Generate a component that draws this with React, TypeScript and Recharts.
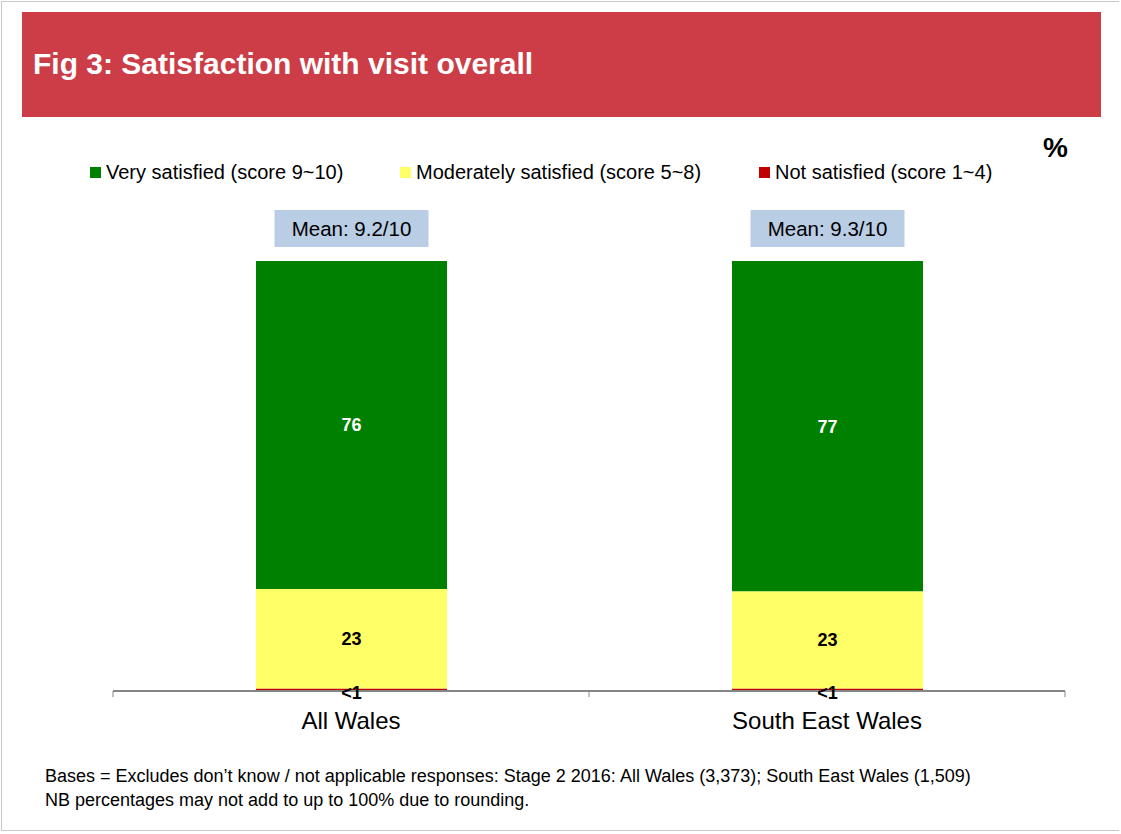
import React from 'react';
import { BarChart, Bar, XAxis, YAxis, LabelList } from 'recharts';

const categories = ['All Wales', 'South East Wales'];
const verySatisfied = [76.3, 76.8];
const moderatelySatisfied = [23.1, 22.6];
const notSatisfied = [0.6, 0.6];
const meanScores = ['9.2/10', '9.3/10'];

const seriesNames = [
  'Very satisfied (score 9~10)',
  'Moderately satisfied (score 5~8)',
  'Not satisfied (score 1~4)',
];
const seriesColors = ['#008000', '#FFFF66', '#C00000'];

const title = 'Fig 3: Satisfaction with visit overall';
const footLines = [
  'Bases = Excludes don\u2019t know / not applicable responses: Stage 2 2016: All Wales (3,373); South East Wales (1,509)',
  'NB percentages may not add to up to 100% due to rounding.',
];

const data = categories.map((name, i) => ({
  name,
  very: verySatisfied[i],
  moderate: moderatelySatisfied[i],
  not: notSatisfied[i],
}));

const FONT = '"Liberation Sans", Arial, sans-serif';
const CHART_W = 1121;
const MARGIN = { top: 261, right: 56, bottom: 83, left: 113 };
const AXIS_GREY = '#868686';

const fmt = (v: any) => {
  const n = Number(v);
  if (n < 1) return '<1';
  return String(Math.round(n));
};

const MeanLabel = (props: any) => {
  const { x, y, width, index } = props;
  const cx = Number(x) + Number(width) / 2;
  const top = Number(y);
  const w = 154;
  return (
    <g>
      <rect x={cx - w / 2} y={top - 51} width={w} height={37} fill="#B9CDE5" />
      <text
        x={cx}
        y={top - 25}
        textAnchor="middle"
        fontSize={20.5}
        fontFamily={FONT}
        fill="#000"
      >
        {'Mean: ' + meanScores[index]}
      </text>
    </g>
  );
};

const CategoryTick = (props: any) => {
  const { x, y, payload, index } = props;
  const fallback = (CHART_W - MARGIN.left - MARGIN.right) / categories.length / 2;
  const half = payload && Number(payload.offset) > 0 ? Number(payload.offset) : fallback;
  const cx = Number(x);
  const ay = Number(y);
  const isLast = index === categories.length - 1;
  return (
    <g>
      <line x1={cx - half} x2={cx - half} y1={ay} y2={ay + 6} stroke={AXIS_GREY} strokeWidth={1} />
      {isLast && (
        <line x1={cx + half} x2={cx + half} y1={ay} y2={ay + 6} stroke={AXIS_GREY} strokeWidth={1} />
      )}
      <text
        x={cx}
        y={ay + 21}
        dy="0.71em"
        textAnchor="middle"
        fontSize={24}
        fontFamily={FONT}
        fill="#000"
      >
        {payload.value}
      </text>
    </g>
  );
};

const legendLefts = [90, 400, 759];

export default function App() {
  return (
    <div
      style={{
        position: 'absolute',
        left: 0,
        top: 0,
        width: 1121,
        height: 834,
        background: '#fff',
        fontFamily: FONT,
        overflow: 'hidden',
      }}
    >
      <div
        style={{
          position: 'absolute',
          left: 1,
          top: 1,
          width: 1118,
          height: 830,
          border: '1px solid #C8C8C8',
          borderRight: 'none',
          boxSizing: 'border-box',
        }}
      />
      <div
        style={{
          position: 'absolute',
          left: 22,
          top: 12,
          width: 1079,
          height: 105,
          background: '#CC3D47',
        }}
      />
      <div
        style={{
          position: 'absolute',
          left: 33,
          top: 44,
          fontSize: 30,
          fontWeight: 'bold',
          color: '#fff',
          lineHeight: '40px',
          whiteSpace: 'nowrap',
        }}
      >
        {title}
      </div>
      <div
        style={{
          position: 'absolute',
          left: 1043,
          top: 131,
          fontSize: 28,
          fontWeight: 'bold',
          color: '#000',
          lineHeight: '34px',
        }}
      >
        %
      </div>
      {seriesNames.map((n, i) => (
        <div
          key={n}
          style={{
            position: 'absolute',
            left: legendLefts[i],
            top: 160,
            display: 'flex',
            alignItems: 'center',
            whiteSpace: 'nowrap',
          }}
        >
          <div style={{ width: 11, height: 11, background: seriesColors[i], marginRight: 5 }} />
          <span style={{ fontSize: 20, color: '#000', lineHeight: '24px' }}>{n}</span>
        </div>
      ))}
      <div style={{ position: 'absolute', left: 0, top: 0 }}>
        <BarChart width={CHART_W} height={834} data={data} margin={MARGIN}>
          <XAxis
            dataKey="name"
            axisLine={{ stroke: AXIS_GREY, strokeWidth: 2 }}
            tickLine={false}
            tickSize={0}
            tickMargin={0}
            tick={CategoryTick}
            interval={0}
            height={60}
          />
          <YAxis hide width={0} domain={[0, 100]} />
          <Bar dataKey="not" stackId="a" fill={seriesColors[2]} barSize={191} isAnimationActive={false} name={seriesNames[2]}>
            <LabelList
              dataKey="not"
              position="center"
              formatter={fmt}
              fill="#000"
              fontSize={18}
              fontWeight="bold"
              fontFamily={FONT}
              dy={3}
            />
          </Bar>
          <Bar dataKey="moderate" stackId="a" fill={seriesColors[1]} barSize={191} isAnimationActive={false} name={seriesNames[1]}>
            <LabelList
              dataKey="moderate"
              position="center"
              formatter={fmt}
              fill="#000"
              fontSize={18}
              fontWeight="bold"
              fontFamily={FONT}
            />
          </Bar>
          <Bar dataKey="very" stackId="a" fill={seriesColors[0]} barSize={191} isAnimationActive={false} name={seriesNames[0]}>
            <LabelList
              dataKey="very"
              position="center"
              formatter={fmt}
              fill="#fff"
              fontSize={18}
              fontWeight="bold"
              fontFamily={FONT}
            />
            <LabelList dataKey="very" content={MeanLabel} />
          </Bar>
        </BarChart>
      </div>
      {footLines.map((t, i) => (
        <div
          key={i}
          style={{
            position: 'absolute',
            left: 45,
            top: 764 + i * 24,
            fontSize: 18,
            color: '#000',
            lineHeight: '24px',
            whiteSpace: 'nowrap',
          }}
        >
          {t}
        </div>
      ))}
    </div>
  );
}
